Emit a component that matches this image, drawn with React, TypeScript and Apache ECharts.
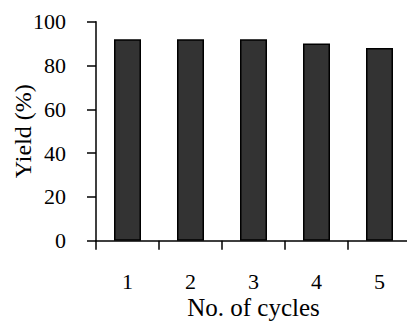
import React, { useEffect, useRef } from "react";
import * as echarts from "echarts";

const categories = ["1", "2", "3", "4", "5"];
const yieldValues = [92, 92, 92, 90, 88];
const yTicks = { min: 0, max: 100, interval: 20 };

export default function App() {
  const ref = useRef<HTMLDivElement>(null);
  useEffect(() => {
    document.body.style.margin = "0";
    const chart = echarts.init(ref.current!, null, { renderer: "svg" });
    const font = "'Liberation Serif', 'Times New Roman', serif";
    chart.setOption({
      animation: false,
      backgroundColor: "#ffffff",
      grid: { left: 96, width: 315, top: 21.7, height: 219, containLabel: false, outerBoundsMode: "none" },
      xAxis: {
        type: "category",
        data: categories,
        name: "No. of cycles",
        nameLocation: "middle",
        nameGap: 54,
        nameMoveOverlap: false,
        nameTextStyle: { fontFamily: font, fontSize: 25, color: "#000" },
        axisLine: { show: true, lineStyle: { color: "#000", width: 1.5 } },
        axisTick: { show: true, length: 9, lineStyle: { color: "#000", width: 1.5 } },
        axisLabel: { fontFamily: font, fontSize: 22, color: "#000", margin: 30 },
      },
      yAxis: {
        type: "value",
        min: yTicks.min,
        max: yTicks.max,
        interval: yTicks.interval,
        name: "Yield (%)",
        nameLocation: "middle",
        nameGap: 61,
        nameMoveOverlap: false,
        nameTextStyle: { fontFamily: font, fontSize: 24, color: "#000" },
        axisLine: { show: true, lineStyle: { color: "#000", width: 1.5 } },
        axisTick: { show: true, length: 9, lineStyle: { color: "#000", width: 1.5 } },
        axisLabel: { fontFamily: font, fontSize: 22, color: "#000", margin: 30 },
        splitLine: { show: false },
      },
      series: [
        {
          type: "bar",
          data: yieldValues,
          barWidth: 27,
          itemStyle: { color: "#333333", borderColor: "#000", borderWidth: 1.5 },
        },
      ],
    });
    return () => chart.dispose();
  }, []);
  return <div ref={ref} style={{ width: 407, height: 321 }} />;
}
